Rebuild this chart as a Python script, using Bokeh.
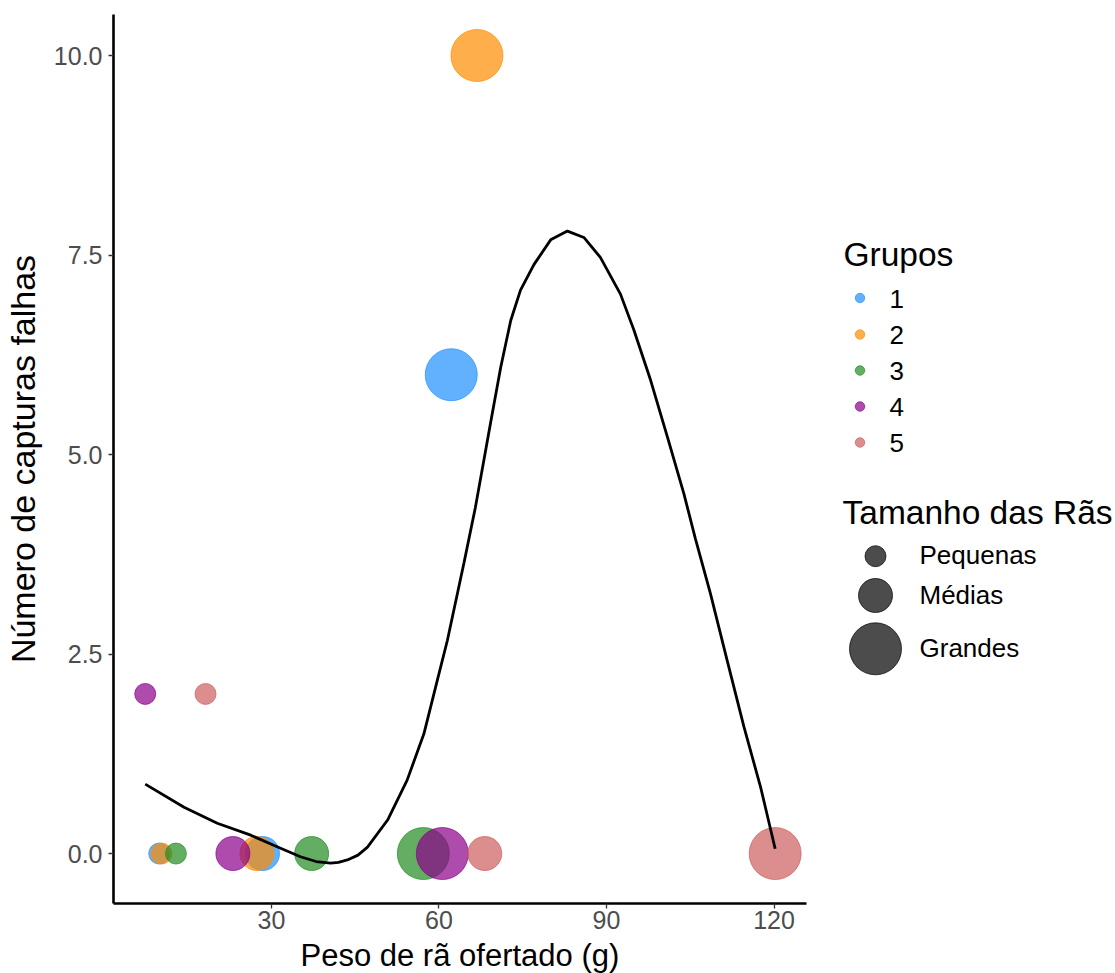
from bokeh.plotting import figure
from bokeh.models import Range1d, FixedTicker, PrintfTickFormatter
from bokeh.layouts import row, column
from bokeh.embed import file_html
from bokeh.resources import INLINE
from bokeh.core.properties import value

# ---------------- data ----------------
grupos = ["1", "1", "1", "2", "2", "2", "3", "3", "3", "4", "4", "4", "5", "5", "5"]
peso = [9.9, 28.4, 62.2, 10.3, 27.4, 66.8, 12.9, 37.2, 57.2, 7.4, 23.1, 60.6, 18.2, 68.2, 120.2]
falhas = [0, 0, 6, 0, 0, 10, 0, 0, 0, 2, 0, 0, 2, 0, 0]
tamanho = ["Pequenas", "Médias", "Grandes"] * 5

curve_x = [7.4, 14.35, 20.3, 26.3, 30.5, 35.2, 38.0, 40.6, 42.0, 43.6, 45.5, 47.2,
           50.8, 54.3, 57.3, 59.7, 61.5, 64.5, 66.5, 68.4, 69.3, 71.05, 72.85, 74.6,
           77.0, 80.0, 83.0, 85.95, 88.9, 92.5, 94.9, 97.9, 100.9, 103.85, 105.9,
           108.6, 111.6, 114.6, 117.6, 120.2]
curve_y = [0.87, 0.58, 0.38, 0.23, 0.10, -0.04, -0.10, -0.12, -0.11, -0.08, -0.02, 0.08,
           0.42, 0.92, 1.50, 2.17, 2.67, 3.65, 4.33, 5.07, 5.42, 6.09, 6.68, 7.06,
           7.38, 7.69, 7.80, 7.72, 7.47, 7.01, 6.56, 5.93, 5.22, 4.51, 3.95,
           3.26, 2.42, 1.59, 0.83, 0.06]

group_labels = ["1", "2", "3", "4", "5"]
group_colors = ["#1E90FF", "#FF8C00", "#228B22", "#8B008B", "#CD5C5C"]
size_labels = ["Pequenas", "Médias", "Grandes"]
size_px = [21, 34, 52]

x_ticks = [30, 60, 90, 120]
y_ticks = [0, 2.5, 5, 7.5, 10]

x_title = "Peso de rã ofertado (g)"
y_title = "Número de capturas falhas"
legend1_title = "Grupos"
legend2_title = "Tamanho das Rãs"

FONT = "Liberation Sans"

# ---------------- main plot ----------------
p = figure(frame_width=693, frame_height=889,
           x_range=Range1d(1.72, 125.81), y_range=Range1d(-0.626, 10.514),
           output_backend="svg", toolbar_location=None,
           min_border_left=113, min_border_top=14, min_border_bottom=35,
           min_border_right=15)
p.outline_line_color = None
p.xgrid.visible = False
p.ygrid.visible = False
p.background_fill_color = "white"
p.border_fill_color = "white"

for ax in (p.xaxis[0], p.yaxis[0]):
    ax.axis_line_color = "black"
    ax.axis_line_width = 2.6
    ax.major_tick_line_color = "#333333"
    ax.major_tick_line_width = 1.3
    ax.major_tick_out = 5
    ax.major_tick_in = 0
    ax.minor_tick_line_color = None
    ax.minor_tick_out = 0
    ax.major_label_text_color = "#4D4D4D"
    ax.major_label_text_font = FONT
    ax.major_label_text_font_size = "25px"

p.xaxis.ticker = FixedTicker(ticks=x_ticks)
p.yaxis.ticker = FixedTicker(ticks=y_ticks)
p.yaxis.formatter = PrintfTickFormatter(format="%.1f")
p.xaxis.major_label_standoff = 2
p.yaxis.major_label_standoff = 6

p.yaxis.axis_label = y_title
p.yaxis.axis_label_text_font = FONT
p.yaxis.axis_label_text_font_size = "34px"
p.yaxis.axis_label_text_font_style = "normal"
p.yaxis.axis_label_text_color = "black"
p.yaxis.axis_label_standoff = 9

size_map = dict(zip(size_labels, size_px))
for g, c in zip(group_labels, group_colors):
    idx = [i for i, gg in enumerate(grupos) if gg == g]
    p.scatter(x=[peso[i] for i in idx], y=[falhas[i] for i in idx],
              size=[size_map[tamanho[i]] for i in idx],
              fill_color=c, fill_alpha=0.7, line_color=c, line_alpha=0.7,
              line_width=1)

p.line(curve_x, curve_y, line_color="black", line_width=2.8)

# ---------------- x title strip ----------------
xs = figure(frame_width=693, frame_height=35, x_range=Range1d(113, 806),
            y_range=Range1d(973, 938), output_backend="svg",
            toolbar_location=None, x_axis_type=None, y_axis_type=None,
            min_border_left=113, min_border_right=15, min_border_top=0,
            min_border_bottom=0)
xs.outline_line_color = None
xs.grid.visible = False
xs.text(x=[459.4], y=[955], text=[x_title], text_font=value(FONT),
        text_font_size=value("31px"), text_color="black",
        text_baseline="middle", text_align="center")

# ---------------- legend panel ----------------
leg = figure(frame_width=294, frame_height=889, x_range=Range1d(821, 1115),
             y_range=Range1d(903, 14), output_backend="svg",
             toolbar_location=None, x_axis_type=None, y_axis_type=None,
             min_border_left=0, min_border_right=0,
             min_border_top=14, min_border_bottom=70)
leg.outline_line_color = None
leg.grid.visible = False
leg.background_fill_color = "white"
leg.border_fill_color = "white"

leg.text(x=[843], y=[253.5], text=[legend1_title], text_font=value(FONT),
         text_font_size=value("33.5px"), text_color="black",
         text_baseline="middle", text_align="left")
g_y = [297.5, 334, 370, 406, 442]
leg.scatter(x=[859.5] * 5, y=g_y, size=9.5, fill_color=group_colors,
            fill_alpha=0.7, line_color=group_colors, line_alpha=0.7, line_width=1)
leg.text(x=[889] * 5, y=[v + 0.5 for v in g_y], text=group_labels,
         text_font=value(FONT), text_font_size=value("26px"),
         text_color="black", text_baseline="middle", text_align="left")

leg.text(x=[842], y=[512], text=[legend2_title], text_font=value(FONT),
         text_font_size=value("33.5px"), text_color="black",
         text_baseline="middle", text_align="left")
s_y = [555.7, 595, 648.3]
leg.scatter(x=[875] * 3, y=s_y, size=size_px, fill_color="black",
            fill_alpha=0.7, line_color="black", line_alpha=0.7, line_width=1)
leg.text(x=[919] * 3, y=[v - 1 for v in s_y], text=size_labels,
         text_font=value(FONT), text_font_size=value("26px"),
         text_color="black", text_baseline="middle", text_align="left")

layout = row(column(p, xs), leg)
open("out.html", "w").write(file_html(layout, INLINE))
